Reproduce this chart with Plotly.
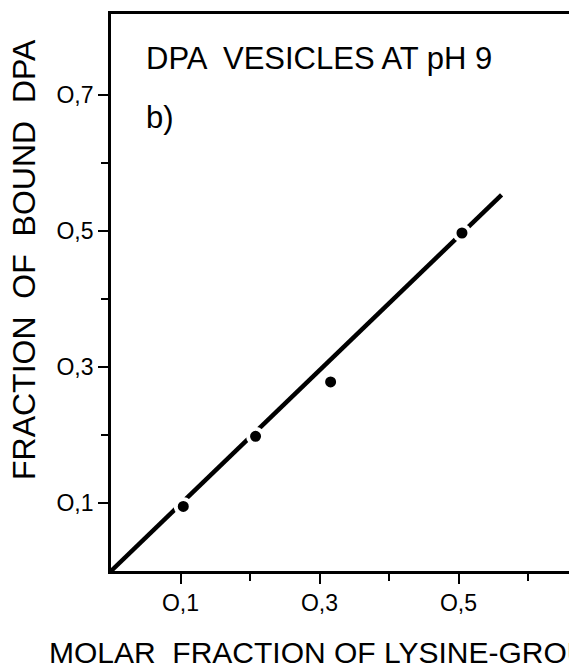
import plotly.graph_objects as go

# data
lysine_fraction = [0.104, 0.208, 0.316, 0.505]
bound_fraction = [0.095, 0.198, 0.278, 0.497]
fit_x = [0.0, 0.562]
fit_y = [0.0, 0.553]

x_major = [0.1, 0.3, 0.5]
x_major_text = ["O,1", "O,3", "O,5"]
x_minor = [0.2, 0.4, 0.6]
y_major = [0.1, 0.3, 0.5, 0.7]
y_major_text = ["O,1", "O,3", "O,5", "O,7"]
y_minor = [0.2, 0.4, 0.6]

FONT = "Liberation Sans, Arial, sans-serif"

fig = go.Figure()
fig.add_trace(go.Scatter(x=fit_x, y=fit_y, mode="lines",
                         line=dict(color="black", width=4.5),
                         cliponaxis=False, hoverinfo="skip"))
fig.add_trace(go.Scatter(x=lysine_fraction, y=bound_fraction, mode="markers",
                         marker=dict(color="black", size=15,
                                     line=dict(color="white", width=4)),
                         cliponaxis=False))

W, H = 569, 665
L, R, T, B = 111, 0, 14, 94
fig.update_layout(
    width=W, height=H,
    margin=dict(l=L, r=R, t=T, b=B),
    paper_bgcolor="white", plot_bgcolor="white",
    showlegend=False,
    font=dict(family=FONT, color="black"),
    xaxis=dict(range=[0, 0.659], showgrid=False, zeroline=False,
               showline=True, linecolor="black", linewidth=2.7, mirror=True,
               tickmode="array", tickvals=x_major, ticktext=x_major_text,
               ticks="outside", ticklen=10, tickwidth=2, tickcolor="black",
               tickfont=dict(size=23, family=FONT),
               minor=dict(tickmode="array", tickvals=x_minor, ticks="outside",
                          ticklen=7, tickwidth=2, tickcolor="black")),
    yaxis=dict(range=[0, 0.819], showgrid=False, zeroline=False,
               showline=True, linecolor="black", linewidth=2.7,
               tickmode="array", tickvals=y_major, ticktext=y_major_text,
               ticks="outside", ticklen=10, tickwidth=2, tickcolor="black",
               tickfont=dict(size=23, family=FONT),
               minor=dict(tickmode="array", tickvals=y_minor, ticks="outside",
                          ticklen=7, tickwidth=2, tickcolor="black")),
    annotations=[
        dict(text="DPA  VESICLES AT pH 9", xref="x", yref="y",
             x=0.047, y=0.753, xanchor="left", yanchor="middle",
             showarrow=False, font=dict(size=31, family=FONT)),
        dict(text="b)", xref="x", yref="y",
             x=0.047, y=0.667, xanchor="left", yanchor="middle",
             showarrow=False, font=dict(size=31, family=FONT)),
        dict(text="FRACTION  OF  BOUND  DPA", xref="paper", yref="paper",
             x=(24 - L) / (W - L), y=(571 - 260) / (571 - T),
             xanchor="center", yanchor="middle", textangle=-90,
             showarrow=False, font=dict(size=32, family=FONT)),
        dict(text="MOLAR  FRACTION OF LYSINE-GROUPS", xref="paper", yref="paper",
             x=(47 - L) / (W - L), y=(571 - 652) / (571 - T),
             xanchor="left", yanchor="middle",
             showarrow=False, font=dict(size=30, family=FONT)),
    ],
)

fig.write_html("out.html")
